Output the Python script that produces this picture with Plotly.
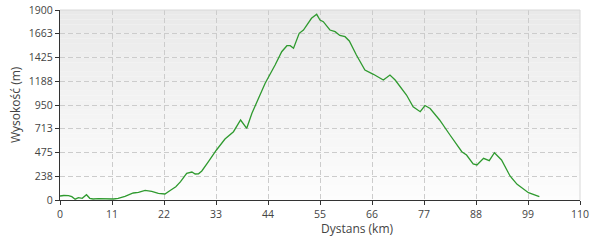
import plotly.graph_objects as go

distance_km = [0, 0.8, 1.8, 2.5, 3.2, 3.9, 4.7, 5.6, 6.3, 7.0, 8.1, 9.5, 10.5, 11.3, 12.3,
               13.75, 15.5, 16.6, 18.0, 19.4, 20.8, 21.9, 22.2, 23.3, 24.5, 25.5, 26.8,
               27.9, 28.6, 29.3, 30.0, 31.4, 33.1, 34.9, 36.7, 38.2, 39.5, 40.6, 41.6,
               43.4, 45.5, 46.9, 48.0, 48.7, 49.4, 50.6, 51.5, 52.5, 53.2, 54.3, 55.0,
               55.7, 57.1, 58.2, 59.2, 60.3, 61.2, 62.7, 64.5, 66.3, 68.4, 69.8, 70.9,
               73.3, 74.7, 76.2, 77.2, 78.3, 80.3, 82.5, 85.0, 86.0, 87.4, 88.2, 89.6,
               90.8, 91.9, 93.4, 95.2, 96.7, 99.1, 101.4]
elevation_m = [40, 45, 43, 33, 8, 23, 17, 53, 17, 10, 13, 10, 12, 10, 17,
               37, 70, 77, 97, 87, 67, 60, 60, 95, 133, 183, 267,
               280, 260, 262, 290, 383, 500, 610, 683, 800, 717, 867, 975,
               1167, 1350, 1483, 1543, 1543, 1517, 1667, 1700, 1767, 1817, 1857, 1800,
               1783, 1700, 1683, 1645, 1633, 1590, 1450, 1300, 1257, 1200, 1250, 1200,
               1050, 933, 883, 945, 915, 800, 650, 483, 450, 360, 350, 417,
               393, 473, 400, 240, 157, 73, 33]

x_ticks = [0, 11, 22, 33, 44, 55, 66, 77, 88, 99, 110]
y_ticks = [0, 238, 475, 713, 950, 1188, 1425, 1663, 1900]

fig = go.Figure()
fig.add_trace(go.Scatter(x=distance_km, y=elevation_m, mode="lines",
                         line=dict(color="#2f9a2f", width=1.3), hoverinfo="skip"))

# vertical gradient background
n = 40
shapes = []
for i in range(n):
    t = i / (n - 1)
    v = int(round(0xe9 + (0xfd - 0xe9) * (1 - t)))
    col = f"rgb({v},{v},{v})"
    shapes.append(dict(type="rect", xref="paper", yref="paper", x0=0, x1=1,
                       y0=i / n, y1=(i + 1) / n, fillcolor=col, line=dict(width=0),
                       layer="below"))
shapes.append(dict(type="line", xref="paper", yref="paper", x0=0, x1=1, y0=1, y1=1,
                   line=dict(color="#d8d8d8", width=1)))
shapes.append(dict(type="line", xref="paper", yref="paper", x0=1, x1=1, y0=0, y1=1,
                   line=dict(color="#d8d8d8", width=1)))

font = dict(family="Open Sans, sans-serif", size=10.5, color="#444444")
fig.update_layout(
    width=600, height=240,
    margin=dict(l=60, r=20, t=10, b=40, autoexpand=False),
    paper_bgcolor="white", plot_bgcolor="rgba(0,0,0,0)",
    showlegend=False, font=font, shapes=shapes,
    xaxis=dict(range=[0, 110], tickvals=x_ticks, ticktext=[str(v) for v in x_ticks],
               showgrid=True, gridcolor="#cccccc", griddash="5px,3px", gridwidth=1,
               zeroline=False, showline=True, linecolor="#333333", linewidth=1.3,
               ticks="outside", ticklen=4, tickcolor="#333333", tickfont=font,
               automargin=False),
    yaxis=dict(range=[0, 1900], tickvals=y_ticks, ticktext=[str(v) for v in y_ticks],
               showgrid=True, gridcolor="#cccccc", griddash="5px,3px", gridwidth=1,
               zeroline=False, showline=True, linecolor="#333333", linewidth=1.3,
               ticks="outside", ticklen=4, tickcolor="#333333", tickfont=font,
               automargin=False),
    annotations=[
        dict(text="Dystans (km)", xref="paper", yref="paper", x=0.573, y=0,
             yshift=-28, showarrow=False, xanchor="center", yanchor="middle",
             font=dict(family="Open Sans, sans-serif", size=12, color="#444444")),
        dict(text="Wysokość (m)", xref="paper", yref="paper", x=0, y=0.5,
             xshift=-45, textangle=-90, showarrow=False, xanchor="center", yanchor="middle",
             font=dict(family="Open Sans, sans-serif", size=12, color="#444444")),
    ],
)
fig.write_html("out.html", config={"displayModeBar": False})
